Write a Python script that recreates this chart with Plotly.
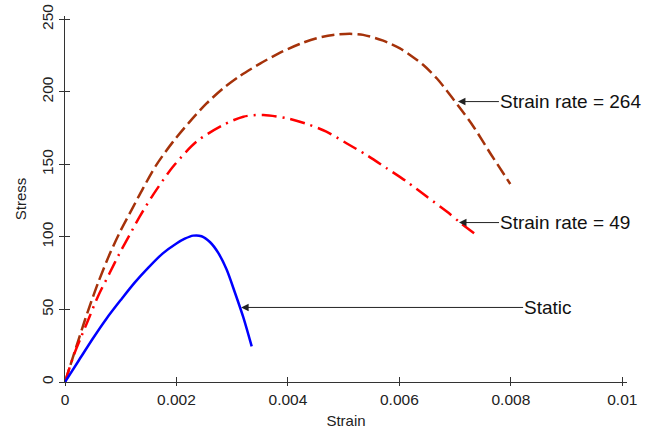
import plotly.graph_objects as go

# ---------------- data ----------------
static_strain = [0, 0.00025, 0.0005, 0.00075, 0.0010, 0.00125, 0.0015, 0.00175, 0.0020,
                 0.00215, 0.0023, 0.00245, 0.0026, 0.00275, 0.0029, 0.00305, 0.0032, 0.00335]
static_stress = [0, 15.0, 30.0, 44.0, 56.5, 68.5, 79.0, 88.5, 95.5,
                 98.8, 100.9, 100.5, 96.5, 89.0, 77.5, 61.5, 44.5, 24.5]

rate49_strain = [0, 0.000172, 0.000293, 0.000442, 0.000591, 0.000801, 0.00098, 0.00116, 0.00134,
                 0.00158, 0.00194, 0.00236, 0.00284, 0.00320, 0.00356, 0.00398, 0.00434,
                 0.00469, 0.00505, 0.00541, 0.00577, 0.00613, 0.00649, 0.00685, 0.00709, 0.00742]
rate49_stress = [0, 20.0, 31.4, 45.2, 59.0, 75.1, 88.8, 101.4, 114.0,
                 129.0, 148.5, 165.7, 177.2, 182.9, 184.1, 181.8, 177.9,
                 172.6, 164.6, 156.5, 147.4, 138.2, 127.8, 117.5, 109.9, 100.3]

rate264_strain = [0, 0.0001, 0.0002, 0.0003, 0.0004, 0.0005, 0.0006, 0.0008, 0.0010,
                  0.0012, 0.0014, 0.00164, 0.00194, 0.00224, 0.00254, 0.00284, 0.00314,
                  0.00350, 0.00386, 0.00421, 0.00450, 0.00481, 0.00511, 0.00535, 0.00571,
                  0.00601, 0.00619, 0.00643, 0.00667, 0.00691, 0.00709, 0.00733, 0.00763, 0.00799]
rate264_stress = [0, 12.0, 24.0, 36.0, 47.5, 58.5, 69.0, 88.0, 104.5,
                  119.0, 133.5, 149.7, 165.7, 179.5, 192.0, 202.5, 211.0,
                  219.5, 227.0, 233.0, 236.8, 239.2, 240.0, 239.3, 235.3,
                  230.0, 225.4, 218.5, 209.4, 197.9, 188.7, 176.0, 157.7, 136.5]

x_ticks = [0, 0.002, 0.004, 0.006, 0.008, 0.01]
x_ticktext = ["0", "0.002", "0.004", "0.006", "0.008", "0.01"]
y_ticks = [0, 50, 100, 150, 200, 250]
y_ticktext = ["0", "50", "100", "150", "200", "250"]

labels = ["Strain rate = 264", "Strain rate = 49", "Static"]
label_strain = [0.00705, 0.00707, 0.00316]
label_stress = [193.3, 109.9, 51.4]
label_offset = [41, 40, 282]

# ---------------- figure ----------------
FONT = "Liberation Sans, Arial, sans-serif"
fig = go.Figure()

fig.add_trace(go.Scatter(x=rate264_strain, y=rate264_stress, mode="lines",
                         line=dict(color="rgb(165,50,10)", width=2.5, dash="13px,5px", shape="spline",
                                   smoothing=0.8),
                         showlegend=False, hoverinfo="skip"))
fig.add_trace(go.Scatter(x=rate49_strain, y=rate49_stress, mode="lines",
                         line=dict(color="#FF0000", width=2.5, dash="15px,6px,2px,6px", shape="spline",
                                   smoothing=0.8),
                         showlegend=False, hoverinfo="skip"))
fig.add_trace(go.Scatter(x=static_strain, y=static_stress, mode="lines",
                         line=dict(color="#0000FF", width=2.5, shape="spline", smoothing=0.8),
                         showlegend=False, hoverinfo="skip"))
# dummy trace for overlay axes (crossing ticks)
fig.add_trace(go.Scatter(x=[None], y=[None], xaxis="x2", yaxis="y2", mode="lines",
                         showlegend=False, hoverinfo="skip"))

for txt, xs, ys, off in zip(labels, label_strain, label_stress, label_offset):
    fig.add_annotation(x=xs, y=ys, xref="x", yref="y", text=txt, showarrow=True,
                       ax=off, ay=0, xanchor="left", yanchor="middle",
                       arrowhead=2, arrowsize=1.5, arrowwidth=1, arrowcolor="#222",
                       font=dict(family=FONT, size=19, color="#111"), borderpad=0)

axis_common = dict(showgrid=False, zeroline=False, linecolor="#333", linewidth=1,
                   tickcolor="#333", tickwidth=1, automargin=False, ticklabeloverflow="allow",
                   tickfont=dict(family=FONT, size=15.5, color="#222"))

fig.update_layout(
    width=648, height=434,
    margin=dict(l=65, r=21, t=16, b=52, autoexpand=False),
    paper_bgcolor="white", plot_bgcolor="white",
    xaxis=dict(range=[0, 0.010084], tickvals=x_ticks, ticktext=x_ticktext,
               ticks="outside", ticklen=3, showline=True,
               title=dict(text="Strain", font=dict(family=FONT, size=15, color="#222"), standoff=8),
               **axis_common),
    yaxis=dict(range=[0, 252.3], tickvals=y_ticks, ticktext=y_ticktext,
               ticks="outside", ticklen=5, showline=True, tickangle=-90,
               title=dict(text="Stress", font=dict(family=FONT, size=15, color="#222"), standoff=8),
               **axis_common),
    xaxis2=dict(overlaying="x", matches="x", anchor="y2", side="bottom", tickvals=x_ticks,
                ticks="inside", ticklen=5, tickcolor="#333", showticklabels=False,
                showline=False, showgrid=False, zeroline=False, automargin=False),
    yaxis2=dict(overlaying="y", matches="y", anchor="x2", side="left", tickvals=y_ticks,
                ticks="inside", ticklen=5, tickcolor="#333", showticklabels=False,
                showline=False, showgrid=False, zeroline=False, automargin=False),
)

# remove the default 8px page margin so the figure fills the window; hide the mode bar
fig.write_html("out.html", config={"displayModeBar": False},
               post_script="document.body.style.margin='0';")
